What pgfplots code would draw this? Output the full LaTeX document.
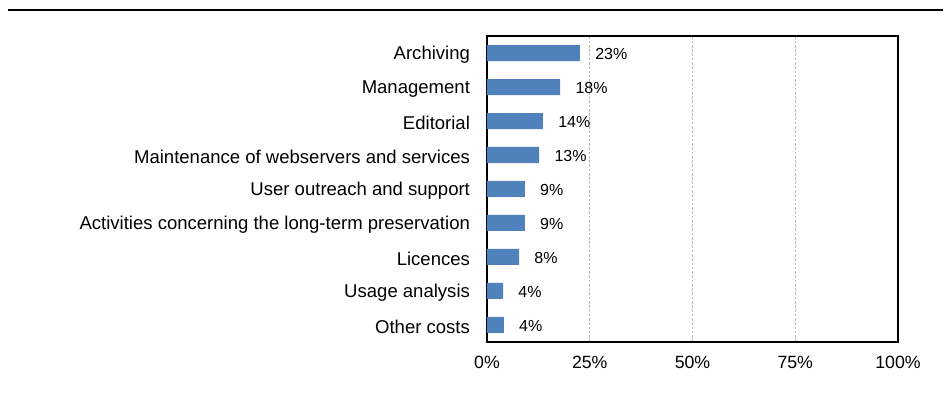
\documentclass[border=0pt]{standalone}
\usepackage{fontspec}
\setmainfont{Liberation Sans}
\usepackage{pgfplots}
\pgfplotsset{compat=1.18}
\definecolor{barblue}{HTML}{4F81BD}

\begin{document}
\begin{tikzpicture}
% page frame in px*0.75pt, axis box lower left at (0,0)
\useasboundingbox (-365.25pt,-42pt) rectangle (342.75pt,256.5pt);
\draw[line width=1.6pt] (-359.25pt,249pt) -- (342pt,249pt);
\begin{axis}[
    xbar,
    scale only axis,
    width=308.25pt,
    height=229.5pt,
    bar width=12pt,
    xmin=0, xmax=100,
    ymin=-0.5, ymax=8.5,
    axis line style={line width=1.1pt},
    xtick={0,25,50,75,100},
    xticklabels={0\%,25\%,50\%,75\%,100\%},
    ytick={0,...,8},
    yticklabels={Other costs, Usage analysis, Licences,
        Activities concerning the long-term preservation,
        User outreach and support,
        Maintenance of webservers and services,
        Editorial, Management, Archiving},
    tick style={draw=none},
    xticklabel style={font=\fontsize{13.3}{15}\selectfont, yshift=-7pt},
    yticklabel style={font=\fontsize{13.9}{15}\selectfont, xshift=-5pt, yshift=-1.5pt},
    xmajorgrids,
    major grid style={black!28, dash pattern=on 2pt off 1.2pt, line width=0.5pt},
    point meta=explicit symbolic,
    nodes near coords,
    nodes near coords style={font=\fontsize{12}{14}\selectfont, anchor=west, xshift=8pt, yshift=-1pt},
]
\addplot[fill=barblue, draw=none] coordinates {
    (4.1,0) [4\%]
    (3.9,1) [4\%]
    (7.8,2) [8\%]
    (9.2,3) [9\%]
    (9.2,4) [9\%]
    (12.7,5) [13\%]
    (13.6,6) [14\%]
    (17.8,7) [18\%]
    (22.6,8) [23\%]
};
\end{axis}
\end{tikzpicture}
\end{document}
